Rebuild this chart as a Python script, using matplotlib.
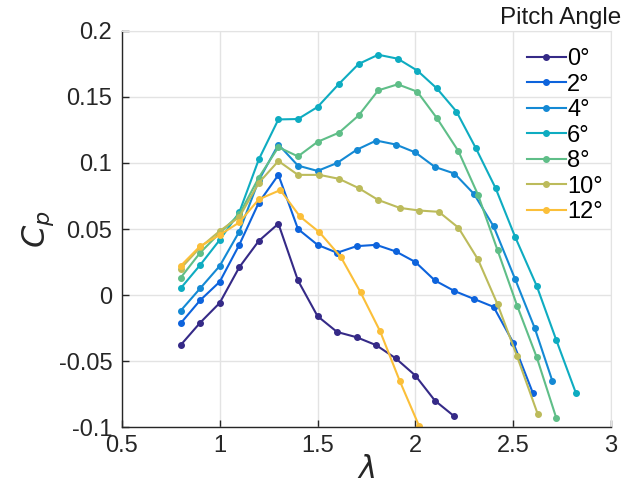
import matplotlib
matplotlib.use('Agg')
import matplotlib.pyplot as plt

# pitch angle -> (lambda, Cp)
angles = ['0°', '2°', '4°', '6°', '8°', '10°', '12°']

lam_0 = [0.8, 0.9, 1.0, 1.1, 1.2, 1.3, 1.4, 1.5, 1.6, 1.7, 1.8, 1.9, 2.0, 2.1, 2.2]
cp_0 = [-0.038, -0.021, -0.006, 0.021, 0.041, 0.054, 0.011, -0.016, -0.028, -0.032,
        -0.038, -0.048, -0.061, -0.080, -0.092]

lam_2 = [0.8, 0.9, 1.0, 1.1, 1.2, 1.3, 1.4, 1.5, 1.6, 1.7, 1.8, 1.9, 2.0, 2.1, 2.2,
         2.3, 2.4, 2.5, 2.6]
cp_2 = [-0.0215, -0.004, 0.010, 0.038, 0.070, 0.091, 0.050, 0.038, 0.032, 0.037,
        0.038, 0.033, 0.025, 0.011, 0.003, -0.003, -0.009, -0.036, -0.074]

lam_4 = [0.8, 0.9, 1.0, 1.1, 1.2, 1.3, 1.4, 1.5, 1.6, 1.7, 1.8, 1.9, 2.0, 2.1, 2.2,
         2.3, 2.4, 2.51, 2.61, 2.70]
cp_4 = [-0.012, 0.005, 0.022, 0.048, 0.087, 0.114, 0.098, 0.094, 0.100, 0.110,
        0.117, 0.114, 0.108, 0.097, 0.092, 0.0765, 0.052, 0.012, -0.025, -0.065]

lam_6 = [0.8, 0.9, 1.0, 1.1, 1.2, 1.3, 1.4, 1.5, 1.61, 1.71, 1.81, 1.91, 2.01, 2.11,
         2.21, 2.31, 2.41, 2.51, 2.62, 2.72, 2.82]
cp_6 = [0.005, 0.0227, 0.0417, 0.0626, 0.1028, 0.133, 0.1333, 0.1424, 0.160, 0.175,
        0.182, 0.179, 0.170, 0.1565, 0.139, 0.111, 0.081, 0.044, 0.007, -0.034, -0.074]

lam_8 = [0.8, 0.9, 1.0, 1.1, 1.2, 1.3, 1.4, 1.5, 1.61, 1.71, 1.81, 1.91, 2.01, 2.11,
         2.22, 2.32, 2.42, 2.52, 2.62, 2.72]
cp_8 = [0.013, 0.032, 0.047, 0.061, 0.089, 0.112, 0.105, 0.116, 0.123, 0.136,
        0.155, 0.1596, 0.154, 0.134, 0.109, 0.076, 0.034, -0.008, -0.047, -0.093]

lam_10 = [0.8, 0.9, 1.0, 1.1, 1.2, 1.3, 1.4, 1.51, 1.61, 1.71, 1.81, 1.92, 2.02, 2.12,
          2.22, 2.32, 2.42, 2.52, 2.625]
cp_10 = [0.020, 0.036, 0.0485, 0.059, 0.085, 0.1015, 0.091, 0.091, 0.088, 0.081,
         0.072, 0.066, 0.064, 0.063, 0.051, 0.027, -0.007, -0.0465, -0.090]

lam_12 = [0.8, 0.9, 1.0, 1.1, 1.2, 1.31, 1.41, 1.51, 1.62, 1.72, 1.82, 1.92, 2.02]
cp_12 = [0.022, 0.037, 0.0455, 0.055, 0.0725, 0.0795, 0.0595, 0.0475, 0.0286, 0.002,
         -0.0275, -0.065, -0.0995]

lams = [lam_0, lam_2, lam_4, lam_6, lam_8, lam_10, lam_12]
cps = [cp_0, cp_2, cp_4, cp_6, cp_8, cp_10, cp_12]

# parula-like colours
colors = ['#352a87', '#0d63dc', '#1489d4', '#0eacc1', '#5fbe88', '#bcbb5b', '#fbbf39']

xticks = [0.5, 1, 1.5, 2, 2.5, 3]
yticks = [-0.1, -0.05, 0, 0.05, 0.1, 0.15, 0.2]

plt.rcParams['font.family'] = ['Liberation Sans', 'DejaVu Sans']
plt.rcParams['mathtext.fontset'] = 'dejavusans'

fig = plt.figure(figsize=(6.25, 4.91), dpi=100)
ax = fig.add_axes([0.195, 0.1303, 0.7826, 0.8066])

for lam, cp, c, a in zip(lams, cps, colors, angles):
    ax.plot(lam, cp, '-o', color=c, lw=1.5, ms=4, label=a)

ax.set_xlim(0.5, 3)
ax.set_ylim(-0.1, 0.2)
ax.set_xticks(xticks)
ax.set_xticklabels(['%g' % t for t in xticks])
ax.set_yticks(yticks)
ax.set_yticklabels(['%g' % t for t in yticks])
ax.grid(True, color='#e3e3e3', lw=1)
ax.set_axisbelow(True)

for s in ['top', 'right']:
    ax.spines[s].set_color('#e3e3e3')
for s in ['left', 'bottom']:
    ax.spines[s].set_color('#262626')
    ax.spines[s].set_linewidth(1)
ax.tick_params(direction='in', length=5, width=1, colors='#262626',
               labelsize=17, top=False, right=False)
ax.tick_params(axis='y', pad=7)
ax.tick_params(axis='x', pad=6)

ax.set_xlabel(r'$\lambda$', fontsize=22, labelpad=-2, color='#262626')
ax.set_ylabel(r'$C_p$', fontsize=23, labelpad=2, color='#262626')

ax.legend(loc='upper left', bbox_to_anchor=(527 / 625, 1 - 48 / 491),
          bbox_transform=fig.transFigure, frameon=False,
          fontsize=17, handlelength=1.65, handletextpad=0.05,
          labelspacing=0.15, borderaxespad=0, borderpad=0.0)
fig.text(621 / 625, 1 - 18 / 491, 'Pitch Angle', ha='right', va='center',
         fontsize=17.5, color='#1a1a1a')

fig.savefig('out.png', dpi=100)
